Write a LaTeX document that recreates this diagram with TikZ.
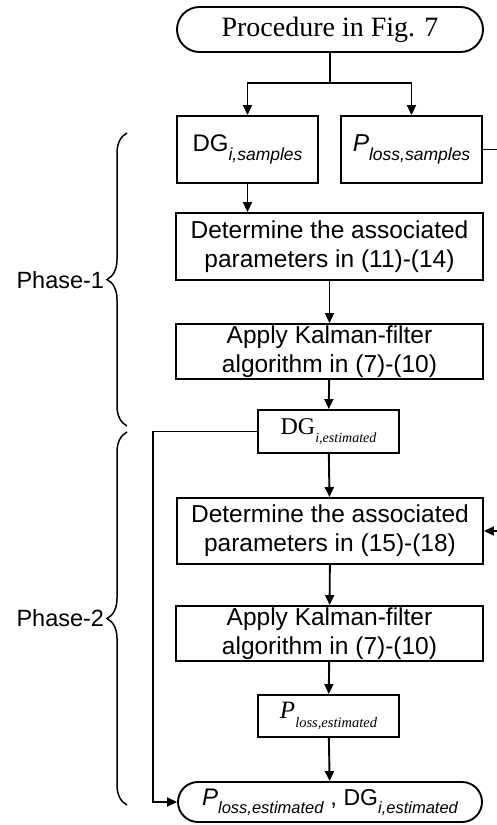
\documentclass[tikz,border=0pt]{standalone}
\usepackage{fontspec}
\setmainfont{Liberation Serif}
\setsansfont{Liberation Sans}
\usetikzlibrary{arrows.meta,shapes.misc,decorations.pathreplacing}

\newcommand{\boxfont}{\sffamily\fontsize{24.5}{29}\selectfont}
\newcommand{\lowidx}[2][16.5]{\raisebox{-0.35em}{\fontsize{#1}{#1}\selectfont\itshape #2}}

\begin{document}
\begin{tikzpicture}[x=1pt,y=1pt,line width=1.9pt,
    >={Triangle[width=9pt,length=10pt]},
    box/.style={draw,rectangle,inner sep=0pt,align=center,font=\boxfont},
    term/.style={draw,rounded rectangle,inner sep=0pt},
    brc/.style={decorate,decoration={brace,amplitude=20pt},line width=1.5pt},
    phase/.style={anchor=east,inner sep=1pt,font=\sffamily\fontsize{23.5}{28}\selectfont}]
    \useasboundingbox (0,0) rectangle (496,-825);
    %Start
    \node[term,minimum width=306pt,minimum height=45pt,font=\fontsize{28}{32}\selectfont] (start) at (330,-29.5) {Procedure in Fig. 7};
    \coordinate (fork) at (330,-83);
    %Samples
    \node[box,minimum width=141pt,minimum height=67pt] (dgs) at (247.5,-149.5) {{\fontsize{24}{28}\selectfont DG}\lowidx[17.5]{i,samples}};
    \node[box,minimum width=141pt,minimum height=67pt] (pls) at (411.5,-149.5) {\textit{P}\lowidx[17.5]{loss,samples}};
    \draw (start.south) -- (fork);
    \draw[->] (fork) -| (dgs.north);
    \draw[->] (fork) -| (pls.north);
    %Phase-1
    \node[box,minimum width=307pt,minimum height=67pt] (det1) at (329.5,-246.5) {Determine the associated\\parameters in (11)-(14)};
    \node[box,minimum width=307pt,minimum height=55pt] (kf1) at (329.5,-351.5) {Apply Kalman-filter\\algorithm in (7)-(10)};
    \node[box,minimum width=141pt,minimum height=43pt,font=\fontsize{24}{28}\selectfont] (dge) at (328.5,-431.5) {DG\lowidx[14]{i,estimated}};
    \draw[->] (dgs.south) -- (dgs.south |- det1.north);
    \draw[->] (det1) -- (kf1);
    \draw[->] (kf1) -- (dge);
    %Phase-2
    \node[box,minimum width=306pt,minimum height=66pt] (det2) at (330,-531) {Determine the associated\\parameters in (15)-(18)};
    \node[box,minimum width=307pt,minimum height=55pt] (kf2) at (329.5,-633.5) {Apply Kalman-filter\\algorithm in (7)-(10)};
    \node[box,minimum width=141pt,minimum height=42pt,font=\fontsize{25}{28}\selectfont] (ple) at (328.5,-716) {\textit{P}\lowidx[14.5]{loss,estimated}};
    \draw[->] (dge) -- (det2);
    \draw[->] (det2) -- (kf2);
    \draw[->] (kf2) -- (ple);
    \draw[->] (pls.east) -- (520,-149.5) |- (det2.east);
    %End
    \node[term,minimum width=304pt,minimum height=40pt,font=\sffamily\fontsize{24}{27}\selectfont] (stop) at (330,-802) {\textit{P}\lowidx{loss,estimated}\ ,\ {\fontsize{23}{26}\selectfont DG}\lowidx{i,estimated}};
    \draw[->] (ple) -- (stop);
    \coordinate (loop) at (153,-431.5);
    \draw[->] (dge.west) -- (loop) |- (stop.west);
    %Braces
    \draw[brc] (127,-426) -- (127,-133);
    \draw[brc] (127,-805) -- (127,-432);
    \node[phase] (ph1) at (106,-280) {Phase-1};
    \node[phase] (ph2) at (106,-618) {Phase-2};
\end{tikzpicture}
\end{document}
